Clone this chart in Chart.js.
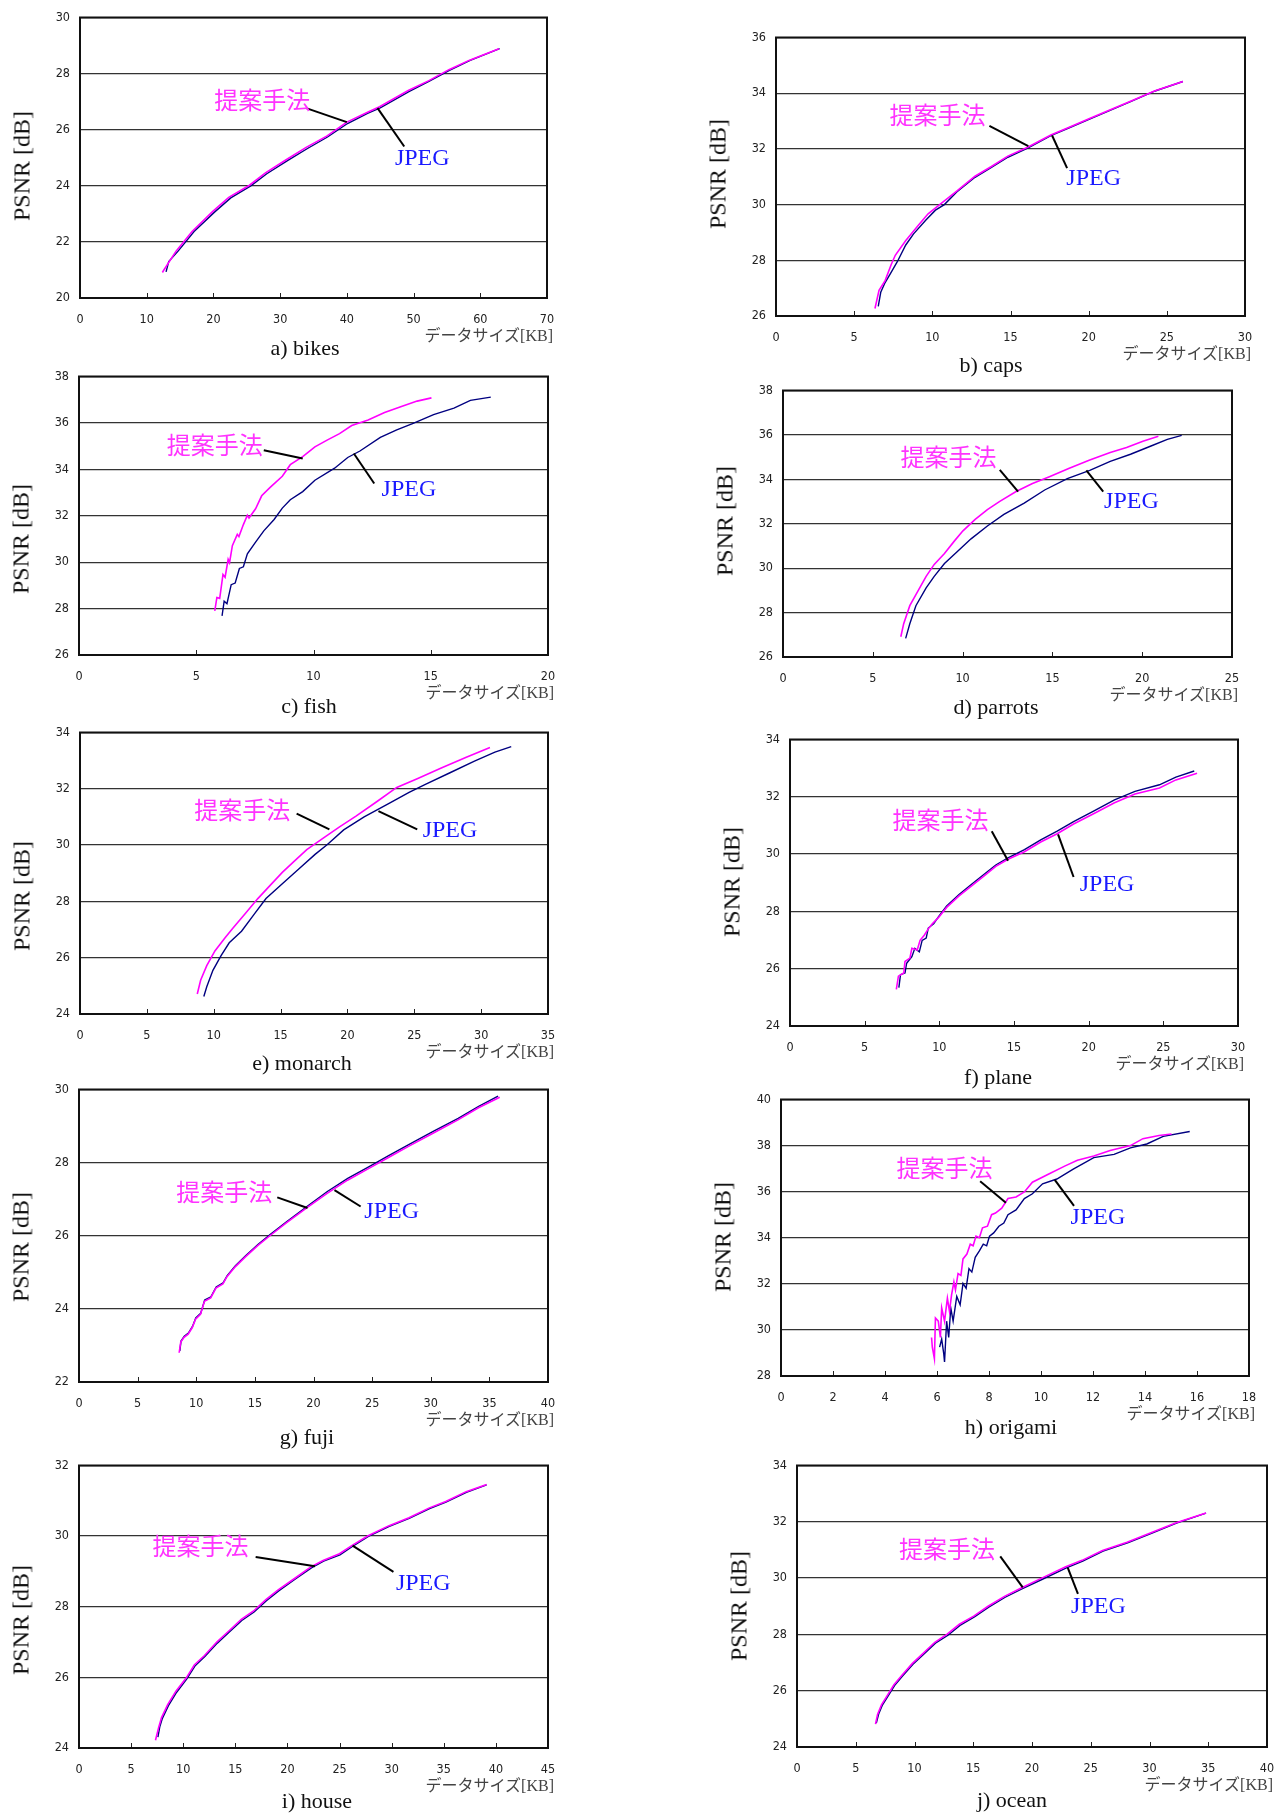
<!DOCTYPE html>
<html>
<head>
<meta charset="utf-8">
<script src="https://cdn.jsdelivr.net/npm/chart.js@4.4.1/dist/chart.umd.min.js"></script>
<style>
body { margin: 0; background: #fff; width: 1279px; height: 1814px; position: relative; overflow: hidden; }
canvas { position: absolute; }
.lbl { position: absolute; white-space: nowrap; line-height: 1; }
.ytitle { font: 24px "Liberation Serif", serif; color: #111; transform: translate(-50%, -50%) rotate(-90deg); }
.cap { font: 22px "Liberation Serif", serif; color: #111; transform: translate(-50%, -50%); }
.xtitle { font: 16px "Liberation Serif", "Noto Sans CJK JP", serif; color: #444; transform: translate(-100%, -50%); }
</style>
</head>
<body>
<script>
// image names and axis ranges
const imageNames = ["bikes", "caps", "fish", "parrots", "monarch", "plane", "fuji", "origami", "house", "ocean"];
const xMax  = [70, 30, 20, 25, 35, 30, 40, 18, 45, 40];
const xStep = [10, 5, 5, 5, 5, 5, 5, 2, 5, 5];
const yMin  = [20, 26, 26, 26, 24, 24, 22, 28, 24, 24];
const yMax  = [30, 36, 38, 38, 34, 34, 30, 40, 32, 34];

// [data size KB, PSNR dB]
const bikesProp = [[12.35,20.91],[12.5,20.97],[14.4,21.67],[16.8,22.37],[19.9,23.09],[22.3,23.59],[25.4,24.02],[27.8,24.46],[30.9,24.93],[33.9,25.37],[36.98,25.77],[40.0,26.27],[43.1,26.62],[44.9,26.82],[49.2,27.40],[52.3,27.75],[55.3,28.14],[58.4,28.48],[62.8,28.89]];
const bikesJpeg = [[12.9,20.93],[13.3,21.3],[14.7,21.67],[17.1,22.37],[20.2,23.07],[22.6,23.57],[25.6,24.0],[28.0,24.43],[31.1,24.9],[34.1,25.33],[37.1,25.74],[40.1,26.22],[43.1,26.58],[45.0,26.78],[49.3,27.36],[52.3,27.72],[55.3,28.11],[58.4,28.46],[62.9,28.89]];

const capsProp = [[6.33,26.27],[6.59,26.92],[6.98,27.27],[7.37,27.85],[7.63,28.18],[8.29,28.70],[9.08,29.24],[9.73,29.67],[10.65,30.08],[11.56,30.48],[12.73,31.02],[13.78,31.37],[14.83,31.74],[16.13,32.07],[17.58,32.50],[18.76,32.78],[20.06,33.09],[22.68,33.71],[24.25,34.09],[26.03,34.42]];
const capsJpeg = [[6.54,26.35],[6.7,26.85],[6.98,27.2],[7.3,27.5],[7.76,27.95],[8.3,28.55],[8.8,28.95],[9.59,29.45],[10.2,29.8],[10.77,30.0],[11.56,30.45],[12.73,30.98],[13.78,31.34],[14.83,31.70],[16.13,32.04],[17.58,32.48],[18.76,32.76],[20.06,33.07],[22.68,33.70],[24.25,34.08],[26.03,34.42]];

const fishProp = [[5.79,27.90],[5.88,28.48],[6.0,28.44],[6.14,29.47],[6.23,29.35],[6.36,30.12],[6.42,29.98],[6.54,30.71],[6.75,31.20],[6.82,31.1],[7.01,31.62],[7.18,32.02],[7.25,31.9],[7.53,32.30],[7.79,32.86],[8.14,33.21],[8.67,33.70],[9.01,34.20],[9.54,34.55],[10.06,34.97],[10.58,35.26],[11.11,35.54],[11.63,35.89],[12.33,36.13],[13.03,36.45],[13.81,36.73],[14.42,36.94],[15.03,37.08]];
const fishJpeg = [[6.10,27.69],[6.19,28.32],[6.31,28.21],[6.49,29.03],[6.66,29.10],[6.84,29.73],[7.01,29.80],[7.18,30.36],[7.53,30.86],[7.88,31.35],[8.32,31.84],[8.67,32.33],[9.01,32.69],[9.54,33.04],[10.06,33.53],[10.9,34.05],[11.46,34.51],[11.98,34.79],[12.85,35.38],[13.55,35.70],[14.25,35.98],[15.12,36.36],[15.99,36.64],[16.69,36.97],[17.56,37.11]];

const parrotsProp = [[6.56,26.91],[6.72,27.50],[7.06,28.31],[7.51,28.97],[7.97,29.63],[8.42,30.17],[8.99,30.66],[9.56,31.24],[10.02,31.68],[10.70,32.20],[11.38,32.64],[12.07,33.01],[12.98,33.45],[13.89,33.81],[14.80,34.11],[15.94,34.50],[17.08,34.87],[18.22,35.21],[19.13,35.43],[20.04,35.72],[20.90,35.94]];
const parrotsJpeg = [[6.83,26.84],[7.06,27.50],[7.40,28.31],[7.97,29.11],[8.42,29.63],[8.99,30.21],[9.68,30.73],[10.47,31.32],[11.38,31.90],[12.30,32.42],[13.43,32.93],[14.57,33.52],[15.83,34.03],[17.08,34.40],[18.22,34.81],[19.35,35.13],[20.49,35.50],[21.40,35.80],[22.2,35.98]];

const monarchProp = [[8.77,24.71],[9.02,25.20],[9.48,25.72],[10.09,26.24],[10.85,26.71],[11.46,27.06],[12.38,27.58],[13.30,28.10],[14.22,28.57],[15.13,29.03],[16.05,29.44],[16.96,29.84],[18.19,30.25],[19.41,30.65],[20.64,31.03],[22.16,31.53],[23.69,32.05],[25.22,32.36],[27.06,32.75],[28.89,33.12],[30.66,33.47]];
const monarchJpeg = [[9.26,24.62],[9.48,24.97],[9.94,25.55],[10.55,26.07],[11.16,26.53],[12.08,26.94],[12.99,27.52],[13.91,28.10],[15.13,28.63],[16.36,29.15],[17.58,29.67],[18.50,30.02],[19.72,30.54],[21.25,31.00],[23.08,31.47],[24.61,31.87],[25.83,32.16],[27.67,32.57],[29.50,32.98],[31.03,33.30],[32.25,33.50]];

const planeProp = [[7.12,25.28],[7.26,25.74],[7.62,25.85],[7.70,26.25],[8.03,26.37],[8.16,26.71],[8.52,26.65],[8.71,26.99],[8.99,27.17],[9.26,27.39],[9.53,27.57],[9.95,27.79],[10.49,28.14],[11.32,28.54],[12.14,28.88],[12.96,29.22],[13.78,29.57],[14.60,29.82],[15.70,30.08],[16.79,30.42],[17.89,30.71],[18.99,31.05],[20.36,31.42],[21.73,31.79],[23.10,32.10],[24.74,32.31],[25.84,32.59],[27.26,32.82]];
const planeJpeg = [[7.29,25.34],[7.40,25.79],[7.70,25.85],[7.81,26.19],[8.16,26.42],[8.36,26.71],[8.66,26.59],[8.85,26.99],[9.12,27.07],[9.26,27.42],[9.62,27.57],[9.95,27.82],[10.49,28.19],[11.32,28.59],[12.14,28.94],[12.96,29.28],[13.78,29.62],[14.60,29.87],[15.70,30.16],[16.79,30.50],[17.89,30.80],[18.99,31.13],[20.36,31.51],[21.73,31.89],[23.10,32.19],[24.74,32.42],[25.84,32.69],[27.07,32.90]];

const fujiProp = [[8.54,22.80],[8.68,23.09],[8.96,23.22],[9.31,23.31],[9.66,23.49],[9.94,23.72],[10.36,23.85],[10.70,24.21],[11.23,24.30],[11.68,24.57],[12.27,24.68],[12.62,24.88],[13.32,25.15],[14.19,25.42],[15.24,25.73],[16.28,26.00],[17.68,26.35],[19.42,26.76],[21.16,27.16],[22.90,27.52],[24.65,27.83],[26.39,28.14],[28.14,28.45],[30.23,28.81],[32.32,29.17],[34.07,29.50],[35.88,29.79]];
const fujiJpeg = [[8.6,22.85],[8.7,23.12],[8.98,23.25],[9.33,23.34],[9.68,23.52],[9.96,23.75],[10.38,23.88],[10.72,24.24],[11.25,24.33],[11.7,24.6],[12.29,24.71],[12.64,24.91],[13.34,25.18],[14.21,25.45],[15.26,25.76],[16.3,26.03],[17.7,26.38],[19.44,26.8],[21.18,27.21],[22.92,27.57],[24.67,27.88],[26.41,28.19],[28.16,28.5],[30.25,28.86],[32.34,29.21],[34.09,29.54],[35.74,29.82]];

const origamiProp = [[5.79,29.67],[5.82,29.25],[5.90,28.75],[5.94,30.52],[6.05,30.38],[6.13,29.67],[6.18,30.95],[6.29,30.38],[6.40,31.38],[6.48,30.81],[6.56,31.52],[6.65,32.09],[6.71,31.74],[6.81,32.45],[6.92,32.37],[7.0,33.08],[7.15,33.29],[7.28,33.72],[7.39,33.65],[7.50,34.07],[7.63,34.00],[7.75,34.43],[7.94,34.50],[8.10,35.00],[8.25,35.07],[8.49,35.28],[8.73,35.70],[9.04,35.77],[9.36,35.99],[9.67,36.41],[10.30,36.77],[10.93,37.12],[11.40,37.36],[12.03,37.55],[12.66,37.79],[13.44,38.00],[13.92,38.30],[14.54,38.44],[15.02,38.50]];
const origamiJpeg = [[6.10,29.25],[6.18,29.60],[6.26,28.96],[6.29,28.61],[6.37,30.38],[6.45,29.67],[6.53,30.95],[6.62,30.38],[6.76,31.45],[6.89,31.09],[7.00,32.02],[7.12,31.81],[7.23,32.66],[7.34,32.51],[7.47,33.15],[7.63,33.43],[7.78,33.72],[7.91,33.65],[8.02,34.07],[8.18,34.21],[8.38,34.50],[8.57,34.64],[8.73,35.00],[9.04,35.21],[9.36,35.70],[9.67,35.91],[10.06,36.34],[10.61,36.55],[11.24,36.98],[12.03,37.48],[12.81,37.62],[13.44,37.90],[14.07,38.07],[14.70,38.40],[15.72,38.61]];

const houseProp = [[7.34,24.22],[7.65,24.59],[7.92,24.86],[8.51,25.23],[9.30,25.61],[10.28,25.98],[11.06,26.35],[12.04,26.62],[13.22,27.00],[14.40,27.32],[15.57,27.64],[16.75,27.88],[17.93,28.20],[19.11,28.48],[20.68,28.80],[22.25,29.13],[23.42,29.31],[24.99,29.50],[26.17,29.73],[27.74,30.01],[29.70,30.29],[31.66,30.52],[33.62,30.80],[35.19,30.98],[37.15,31.26],[39.11,31.46]];
const houseJpeg = [[7.57,24.31],[7.75,24.6],[8.0,24.84],[8.58,25.2],[9.37,25.58],[10.33,25.95],[11.12,26.32],[12.1,26.6],[13.27,26.97],[14.45,27.29],[15.62,27.61],[16.8,27.85],[17.98,28.17],[19.16,28.45],[20.73,28.78],[22.3,29.1],[23.47,29.29],[25.04,29.47],[26.2,29.7],[27.77,29.99],[29.72,30.27],[31.68,30.5],[33.64,30.78],[35.21,30.96],[37.17,31.24],[39.11,31.45]];

const oceanProp = [[6.68,24.81],[6.86,25.16],[7.20,25.51],[7.73,25.86],[8.25,26.21],[8.95,26.56],[9.82,26.97],[10.69,27.31],[11.73,27.72],[12.78,28.01],[13.82,28.36],[15.04,28.65],[16.26,29.00],[17.66,29.35],[19.04,29.64],[20.78,29.99],[22.87,30.40],[24.26,30.63],[26.00,30.98],[28.09,31.27],[30.18,31.62],[32.27,31.97],[34.81,32.31]];
const oceanJpeg = [[6.75,24.85],[6.95,25.17],[7.28,25.5],[7.8,25.84],[8.3,26.18],[9.0,26.53],[9.87,26.94],[10.74,27.28],[11.78,27.69],[12.85,27.97],[13.87,28.32],[15.1,28.62],[16.32,28.97],[17.72,29.32],[19.1,29.61],[20.84,29.95],[22.93,30.36],[24.32,30.6],[26.05,30.96],[28.14,31.25],[30.22,31.6],[32.3,31.95],[34.81,32.31]];

const propSeries = [bikesProp, capsProp, fishProp, parrotsProp, monarchProp, planeProp, fujiProp, origamiProp, houseProp, oceanProp];
const jpegSeries = [bikesJpeg, capsJpeg, fishJpeg, parrotsJpeg, monarchJpeg, planeJpeg, fujiJpeg, origamiJpeg, houseJpeg, oceanJpeg];

// page layout of each plot area (px), caption centre, y-title shift
const layout = [
  { L: 80,  R: 547,  T: 12,   B: 298,  cx: 305,  cy: 348,  ty: 11 },
  { L: 776, R: 1245, T: 32,   B: 316,  cx: 991,  cy: 365,  ty: 0 },
  { L: 79,  R: 548,  T: 371,  B: 655,  cx: 309,  cy: 706,  ty: 26 },
  { L: 783, R: 1232, T: 385,  B: 657,  cx: 996,  cy: 707,  ty: 0 },
  { L: 80,  R: 548,  T: 727,  B: 1014, cx: 302,  cy: 1063, ty: 25 },
  { L: 790, R: 1238, T: 734,  B: 1026, cx: 998,  cy: 1077, ty: 2 },
  { L: 79,  R: 548,  T: 1084, B: 1382, cx: 307,  cy: 1437, ty: 14 },
  { L: 781, R: 1249, T: 1094, B: 1376, cx: 1011, cy: 1427, ty: 2 },
  { L: 79,  R: 548,  T: 1460, B: 1748, cx: 317,  cy: 1801, ty: 16 },
  { L: 797, R: 1267, T: 1460, B: 1747, cx: 1012, cy: 1800, ty: 2 }
];

// callout labels, in data units: text centre, then leader line from/to
const callouts = [
  { p: [27.3, 27.06, 33.9, 26.77, 40.0, 26.27],  j: [51.3, 24.97, 48.6, 25.40, 44.6, 26.77] },
  { p: [10.33, 33.21, 13.65, 32.83, 16.14, 32.10], j: [20.32, 30.94, 18.62, 31.31, 17.66, 32.48] },
  { p: [5.79, 35.07, 7.88, 34.82, 9.54, 34.47],   j: [14.07, 33.11, 12.59, 33.39, 11.72, 34.68] },
  { p: [9.22, 34.99, 12.07, 34.43, 13.09, 33.45], j: [19.40, 32.98, 17.83, 33.45, 16.89, 34.40] },
  { p: [12.14, 31.26, 16.20, 31.12, 18.65, 30.56], j: [27.67, 30.52, 25.22, 30.56, 22.32, 31.21] },
  { p: [10.08, 31.19, 13.51, 30.80, 14.60, 29.77], j: [21.23, 28.94, 18.99, 29.2, 17.95, 30.69] },
  { p: [12.38, 27.20, 16.91, 27.05, 19.49, 26.76], j: [26.67, 26.65, 24.02, 26.80, 21.79, 27.25] },
  { p: [6.29, 37.02, 7.66, 36.45, 8.65, 35.52],   j: [12.19, 34.89, 11.27, 35.38, 10.53, 36.51] },
  { p: [11.65, 29.73, 16.95, 29.41, 22.64, 29.15], j: [33.03, 28.65, 30.17, 28.99, 26.25, 29.73] },
  { p: [12.77, 31.03, 17.30, 30.77, 19.21, 29.67], j: [25.65, 29.0, 23.91, 29.44, 23.04, 30.37] }
];

const PAD_L = 75, PAD_T = 12, PAD_R = 25, PAD_B = 35;

const framePlugin = {
    id: "frame",
    afterDraw(chart, args, opts) {
        const { ctx, chartArea: a, scales: { x, y } } = chart;
        ctx.save();
        // x tick marks, pointing into the plot
        ctx.strokeStyle = "#222";
        ctx.lineWidth = 1;
        x.ticks.forEach(t => {
            const px = Math.round(x.getPixelForValue(t.value)) + 0.5;
            ctx.beginPath();
            ctx.moveTo(px, a.bottom);
            ctx.lineTo(px, a.bottom - 5);
            ctx.stroke();
        });
        ctx.lineWidth = 2;
        ctx.strokeStyle = "#111";
        ctx.strokeRect(a.left, a.top, a.width, a.height);

        const c = opts.callout;
        const drawCallout = (v, text, font, color) => {
            ctx.strokeStyle = "#000";
            ctx.lineWidth = 2;
            ctx.beginPath();
            ctx.moveTo(x.getPixelForValue(v[2]), y.getPixelForValue(v[3]));
            ctx.lineTo(x.getPixelForValue(v[4]), y.getPixelForValue(v[5]));
            ctx.stroke();
            ctx.font = font;
            ctx.fillStyle = color;
            ctx.textAlign = "center";
            ctx.textBaseline = "middle";
            ctx.fillText(text, x.getPixelForValue(v[0]), y.getPixelForValue(v[1]));
        };
        drawCallout(c.p, "提案手法", '24px "Noto Sans CJK JP"', "#ff33ff");
        drawCallout(c.j, "JPEG", '24px "Liberation Serif"', "#1a1aff");
        ctx.restore();
    }
};

function addText(cls, text, left, top) {
    const d = document.createElement("div");
    d.className = "lbl " + cls;
    d.textContent = text;
    d.style.left = left + "px";
    d.style.top = top + "px";
    document.body.appendChild(d);
}

function makePanel(i) {
    const g = layout[i];
    const cv = document.createElement("canvas");
    cv.width = g.R - g.L + PAD_L + PAD_R;
    cv.height = g.B - g.T + PAD_T + PAD_B;
    cv.style.left = (g.L - PAD_L) + "px";
    cv.style.top = (g.T - PAD_T) + "px";
    document.body.appendChild(cv);

    const tickFont = { family: '"DejaVu Sans Condensed", "DejaVu Sans", sans-serif', size: 12.5 };

    new Chart(cv.getContext("2d"), {
        type: "scatter",
        data: {
            datasets: [
                {
                    label: "提案手法",
                    data: propSeries[i].map(p => ({ x: p[0], y: p[1] })),
                    showLine: true, borderColor: "#ff00ff", borderWidth: 1.6,
                    pointRadius: 0, tension: 0
                },
                {
                    label: "JPEG",
                    data: jpegSeries[i].map(p => ({ x: p[0], y: p[1] })),
                    showLine: true, borderColor: "#000080", borderWidth: 1.4,
                    pointRadius: 0, tension: 0
                }
            ]
        },
        options: {
            responsive: false,
            animation: false,
            devicePixelRatio: 1,
            layout: { padding: { left: 0, top: PAD_T, right: PAD_R, bottom: 0 } },
            plugins: {
                legend: { display: false },
                tooltip: { enabled: false },
                frame: { callout: callouts[i] }
            },
            scales: {
                x: {
                    type: "linear", min: 0, max: xMax[i],
                    ticks: { stepSize: xStep[i], color: "#222", font: tickFont, padding: 14, maxRotation: 0 },
                    grid: { display: false, drawTicks: false },
                    border: { display: false },
                    afterFit: s => { s.height = PAD_B; }
                },
                y: {
                    type: "linear", min: yMin[i], max: yMax[i],
                    ticks: { stepSize: 2, color: "#222", font: tickFont, padding: 10 },
                    grid: { color: "#333", lineWidth: 1.3, drawTicks: false },
                    border: { display: false },
                    afterFit: s => { s.width = PAD_L; }
                }
            }
        },
        plugins: [framePlugin]
    });

    addText("ytitle", "PSNR [dB]", g.L - 58, (g.T + g.B) / 2 + g.ty);
    addText("xtitle", "データサイズ[KB]", g.R + 6, g.B + 36);
    addText("cap", String.fromCharCode(97 + i) + ") " + imageNames[i], g.cx, g.cy);
}

document.addEventListener("DOMContentLoaded", () => {
    for (let i = 0; i < imageNames.length; i++) makePanel(i);
});
</script>
</body>
</html>
